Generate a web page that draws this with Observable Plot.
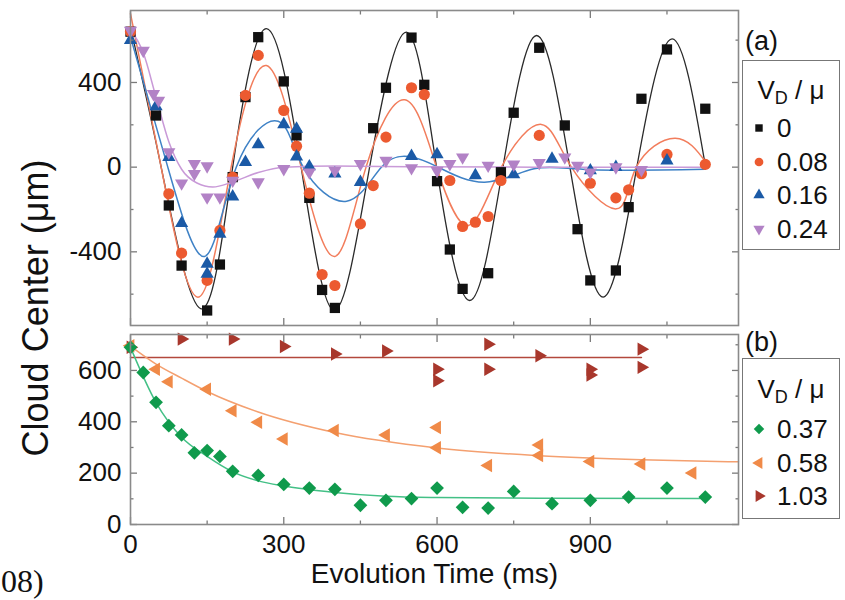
<!DOCTYPE html>
<html><head><meta charset="utf-8">
<script src="https://cdn.jsdelivr.net/npm/d3@7"></script>
<script src="https://cdn.jsdelivr.net/npm/@observablehq/plot@0.6"></script>
<style>
body{margin:0;background:#fff;}
#root{position:relative;width:845px;height:600px;overflow:hidden;background:#fff;font-family:"Liberation Sans",Arial,sans-serif;color:#111;}
#root svg.plt{position:absolute;left:0;}
.lbl{position:absolute;white-space:nowrap;line-height:1;}
.legend{position:absolute;left:742px;width:98px;border:1.5px solid #777;box-sizing:border-box;background:#fff;}
.row{position:absolute;left:0;height:30px;display:flex;align-items:center;font-size:26px;line-height:1;}
.row svg{width:16px;height:16px;margin-left:8px;margin-right:10px;overflow:visible;}
.ttl{position:absolute;left:0;width:100%;text-align:center;font-size:26px;line-height:1;}
.ttl sub{font-size:18px;vertical-align:-5px;}
</style></head><body><div id="root"></div>
<script>
// ---------- panel (a) measured points [time ms, center um] ----------
const black0 = [[0,640],[50,244],[75,-181],[100,-465],[150,-677],[175,-460],[200,-47],[225,331],[250,614],[300,405],[325,150],[350,-145],[375,-580],[400,-665],[475,184],[500,375],[550,612],[575,389],[600,-66],[625,-389],[650,-575],[700,-501],[725,-24],[750,257],[800,564],[850,197],[875,-293],[900,-535],[950,-488],[975,-189],[1000,323],[1050,556],[1125,276]];
const red008 = [[0,640],[75,-126],[100,-406],[150,-535],[175,-299],[200,-47],[225,339],[250,528],[300,268],[325,99],[350,-123],[375,-507],[400,-559],[450,-268],[475,-87],[500,142],[550,375],[575,343],[625,-63],[650,-280],[675,-260],[700,-233],[725,-63],[800,150],[900,-76],[950,-145],[975,-107],[1000,-31],[1050,60],[1125,13]];
const blue016 = [[0,600],[50,287],[75,47],[100,-265],[150,-457],[150,-504],[175,-315],[200,-139],[225,24],[250,107],[300,202],[325,181],[325,50],[350,3],[400,-31],[450,-71],[550,52],[600,60],[675,-39],[750,-35],[825,39],[900,-16],[950,0],[1050,31]];
const purple024 = [[0,645],[25,551],[45,346],[55,315],[75,71],[100,-76],[125,16],[125,-31],[150,5],[150,-142],[175,-142],[200,-63],[250,-71],[300,-8],[350,-24],[400,-16],[450,16],[500,31],[550,-4],[600,-16],[625,16],[650,47],[700,8],[750,13],[800,20],[850,47],[875,8],[900,-24],[950,0],[1000,-13]];
// panel (a) fitted curves (key points)
const fitBlack0 = [[0,660],[60,0],[138,-669],[200,0],[266,654],[334,0],[399,-677],[468,0],[540,638],[599,0],[664,-630],[729,0],[795,622],[860,0],[925,-614],[991,0],[1060,606],[1125,8]];
const fitRed008 = [[0,725],[60,0],[132,-614],[197,0],[266,480],[334,0],[400,-422],[461,0],[537,318],[599,0],[661,-276],[726,0],[804,202],[863,0],[951,-197],[990,0],[1066,137],[1126,24]];
const fitBlue016 = [[0,615],[73,0],[145,-422],[207,0],[289,217],[338,0],[423,-161],[491,0],[545,50],[602,0],[693,-71],[790,-8],[900,-12],[1125,-10]];
const fitPurple024 = [[0,650],[25,540],[50,330],[75,120],[100,-10],[130,-75],[161,-94],[200,-70],[250,-25],[300,0],[400,5],[550,2],[800,0],[1125,0]];

// ---------- panel (b) ----------
const green037 = [[0,690],[25,592],[50,476],[75,385],[100,349],[125,279],[150,288],[175,265],[200,207],[250,191],[300,156],[350,142],[400,137],[450,75],[500,94],[550,101],[600,142],[650,67],[700,64],[750,129],[825,81],[900,94],[975,107],[1050,142],[1125,107]];
const orange058 = [[0,696],[50,605],[75,556],[150,527],[200,443],[250,398],[300,333],[400,366],[500,349],[600,378],[600,299],[700,230],[800,310],[800,269],[900,245],[1000,236],[1100,201]];
const brown103 = [[0,690],[100,722],[200,722],[300,693],[400,664],[500,676],[600,605],[600,560],[700,702],[700,605],[800,657],[900,605],[900,582],[1000,683],[1000,612]];
const fitGreen037 = [[0,690],[50,475],[100,340],[150,265],[200,205],[250,170],[300,150],[400,125],[500,110],[600,105],[800,102],[1125,101]];
const fitOrange058 = [[0,695],[50,625],[100,570],[150,518],[250,438],[400,358],[600,298],[800,268],[1000,252],[1190,244]];
const fitBrown103 = [[0,650],[1000,650]];

// ---------- ticks / labels ----------
const xMajor = [0,300,600,900], xMinor = [150,450,750,1050];
const yaMajor = [-400,0,400], yaMinor = [-600,-200,200,600];
const ybMajor = [0,200,400,600], ybMinor = [100,300,500,700];
const legendA = ["0","0.08","0.16","0.24"];
const legendB = ["0.37","0.58","1.03"];

// ---------- symbols ----------
const S3 = Math.sqrt(3);
function tri(angle){ return {draw(ctx,size){ const s=Math.sqrt(size/(S3*3)); const pts=[[0,-2*s],[S3*s,s],[-S3*s,s]]; const c=Math.cos(angle), sn=Math.sin(angle); pts.forEach(([x,y],i)=>{const X=x*c-y*sn, Y=x*sn+y*c; if(i) ctx.lineTo(X,Y); else ctx.moveTo(X,Y);}); ctx.closePath(); }}; }
const symUp=tri(0), symDown=tri(Math.PI), symLeft=tri(-Math.PI/2), symRight=tri(Math.PI/2);

const C = {black:"#111111", red:"#ec5a30", blue:"#1b5aa6", purple:"#b282c6", green:"#0f9a4c", orange:"#f08a48", brown:"#a8372c"};
const L = {black:"#2a2a2a", red:"#f27d5c", blue:"#3f82c6", purple:"#c99ad8", green:"#43c086", orange:"#f4a070", brown:"#b3483c"};

const font = '"Liberation Sans", Arial, sans-serif';
function axesMarks(yMaj, yMin, yLab){
  const o = {stroke:"#7a7a7a", strokeWidth:1.3, tickFormat:()=>"", label:null};
  return [
    Plot.axisX({anchor:"bottom", ticks:xMajor, tickSize:-7, ...o}),
    Plot.axisX({anchor:"bottom", ticks:xMinor, tickSize:-3.5, ...o}),
    Plot.axisX({anchor:"top", ticks:xMajor, tickSize:-7, ...o}),
    Plot.axisX({anchor:"top", ticks:xMinor, tickSize:-3.5, ...o}),
    Plot.axisY({anchor:"left", ticks:yMaj, tickSize:-7, ...o}),
    Plot.axisY({anchor:"left", ticks:yMin, tickSize:-3.5, ...o}),
    Plot.axisY({anchor:"right", ticks:yMaj, tickSize:-7, ...o}),
    Plot.axisY({anchor:"right", ticks:yMin, tickSize:-3.5, ...o}),
    Plot.axisY({anchor:"left", ticks:yLab, tickSize:0, tickPadding:9, label:null, fill:"#111", tickFormat:d=>String(d)}),
    Plot.frame({stroke:"#8a8a8a", strokeWidth:1.6})
  ];
}
const line = (d, color, curve, w=1.5) => Plot.line(d, {x:d=>d[0], y:d=>d[1], stroke:color, strokeWidth:w, curve});
const dots = (d, color, symbol, r) => Plot.dot(d, {x:d=>d[0], y:d=>d[1], fill:color, symbol, r});

const root = document.getElementById("root");
const common = {width:845, marginLeft:130, marginRight:107, style:{fontFamily:font, fontSize:"26px", color:"#111", background:"transparent", overflow:"visible"}};

const topPlot = Plot.plot({...common, height:330, marginTop:10, marginBottom:5,
  x:{domain:[0,1190], axis:null}, y:{domain:[-748,740], axis:null},
  marks:[
    line(fitBlack0, L.black, "natural", 1.3),
    line(fitRed008, L.red, "natural"),
    line(fitBlue016, L.blue, "natural"),
    line(fitPurple024, L.purple, "monotone-x"),
    dots(black0, C.black, "square", 5.8),
    dots(red008, C.red, "circle", 5.6),
    dots(blue016, C.blue, symUp, 4.9),
    dots(purple024, C.purple, symDown, 4.9),
    ...axesMarks(yaMajor, yaMinor, yaMajor)
  ]});
topPlot.setAttribute("class", (topPlot.getAttribute("class")||"")+" plt");
topPlot.style.top = "0px";
root.appendChild(topPlot);

const botPlot = Plot.plot({...common, height:276, marginTop:10, marginBottom:76,
  x:{domain:[0,1190], axis:null}, y:{domain:[0,740], axis:null},
  marks:[
    line(fitBrown103, L.brown, "linear"),
    line(fitOrange058, L.orange, "monotone-x"),
    line(fitGreen037, L.green, "monotone-x"),
    dots(brown103, C.brown, symRight, 5),
    dots(orange058, C.orange, symLeft, 5),
    dots(green037, C.green, "diamond2", 6.2),
    ...axesMarks(ybMajor, ybMinor, ybMajor),
    Plot.axisX({anchor:"bottom", ticks:xMajor, tickSize:0, tickPadding:10, label:null, fill:"#111", tickFormat:d=>String(d)}),
    Plot.text(["Evolution Time (ms)"], {frameAnchor:"bottom", dy:58, fontSize:28, text:d=>d, fill:"#111"})
  ]});
botPlot.setAttribute("class", (botPlot.getAttribute("class")||"")+" plt");
botPlot.style.top = "324px";
root.appendChild(botPlot);

// y title
const yt = document.createElement("div");
yt.className = "lbl";
yt.textContent = "Cloud Center (\u03bcm)";
yt.style.cssText = "font-size:36px;left:36px;top:308px;transform:translate(-50%,-50%) rotate(-90deg);";
root.appendChild(yt);

// panel tags
function tag(t, top){ const d=document.createElement("div"); d.className="lbl"; d.textContent=t; d.style.cssText=`font-size:27px;left:745px;top:${top}px;`; root.appendChild(d); }
tag("(a)", 28); tag("(b)", 329);

// legends
function legend(top, height, titleTop, names, colors, syms, sizes, rowTop){
  const box = document.createElement("div"); box.className="legend"; box.style.top=top+"px"; box.style.height=height+"px";
  const t = document.createElement("div"); t.className="ttl"; t.style.top=titleTop+"px"; t.innerHTML="V<sub>D</sub> / \u03bc"; box.appendChild(t);
  names.forEach((n,i)=>{
    const r = document.createElement("div"); r.className="row"; r.style.top=(rowTop+i*33.5-15)+"px";
    const s = d3.create("svg").attr("viewBox","-8 -8 16 16");
    s.append("path").attr("d", d3.symbol(syms[i], sizes[i])()).attr("fill", colors[i]);
    r.appendChild(s.node());
    const sp = document.createElement("span"); sp.textContent=n; r.appendChild(sp);
    box.appendChild(r);
  });
  root.appendChild(box);
}
legend(60, 190, 16, legendA, [C.black,C.red,C.blue,C.purple], [d3.symbolSquare,d3.symbolCircle,symUp,symDown], [55,60,55,55], 67);
legend(358, 161, 17, legendB, [C.green,C.orange,C.brown], [d3.symbolDiamond2,symLeft,symRight], [70,60,60], 70);

// visible remnant of a citation at lower left
const cit = document.createElement("div"); cit.className="lbl"; cit.textContent="08)";
cit.style.cssText='font-family:"Liberation Serif","Times New Roman",serif;font-size:32px;left:1px;top:565px;';
root.appendChild(cit);
</script></body></html>
